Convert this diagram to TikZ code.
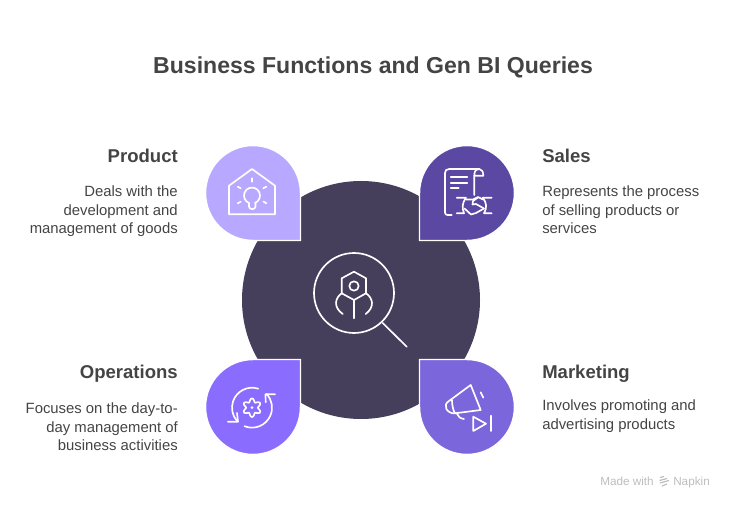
\documentclass[tikz,border=0pt]{standalone}
\usepackage{fontspec}
\setmainfont{Liberation Sans}
\definecolor{ink}{HTML}{444444}
\definecolor{hub}{HTML}{453F5C}
\definecolor{cproduct}{HTML}{B9A8FF}
\definecolor{csales}{HTML}{5B48A2}
\definecolor{coper}{HTML}{8A6CFF}
\definecolor{cmark}{HTML}{7B66DC}
\definecolor{brand}{HTML}{BDBDBD}
\tikzset{
 droplet/.style={draw=white,line width=1.1pt,line join=miter},
 icon/.style={draw=white,line width=1.25pt,line cap=round,line join=round},
 heading/.style={inner sep=0pt,text=ink,font=\fontsize{13.9}{17}\selectfont\bfseries},
 bodyleft/.style={inner sep=0pt,text=ink,align=right,anchor=north east,font=\fontsize{11.15}{13.85}\selectfont},
 bodyright/.style={inner sep=0pt,text=ink,align=left,anchor=north west,font=\fontsize{11.15}{13.85}\selectfont},
 brandtext/.style={inner sep=0pt,text=brand,font=\fontsize{8.8}{10}\selectfont},
}
\begin{document}
\begin{tikzpicture}[x=0.75pt,y=-0.75pt]
\useasboundingbox (0,0) rectangle (732,509);
\node[inner sep=0pt,text=ink,font=\fontsize{17.3}{22}\selectfont\bfseries,anchor=base] (title) at (373,73.5) {Business Functions and Gen BI Queries};
% hub
\fill[hub] (361,300) circle[radius=119];
% droplets
\path[droplet,fill=cproduct] (253,240.5) arc[start angle=90,end angle=360,radius=47.5] -- (300.5,240.5) -- cycle;
\path[droplet,fill=csales] (419.5,193) arc[start angle=180,end angle=450,radius=47.5] -- (419.5,240.5) -- cycle;
\path[droplet,fill=coper] (300.5,407) arc[start angle=0,end angle=270,radius=47.5] -- (300.5,359.5) -- cycle;
\path[droplet,fill=cmark] (467,359.5) arc[start angle=270,end angle=540,radius=47.5] -- (419.5,359.5) -- cycle;
% centre icon
\draw[icon] (354,293) circle[radius=40];
\draw[icon] (382.7,323) -- (406.7,346.7);
\draw[icon] (354,271.7) -- (366,278.3) -- (366,293.3) -- (354,300) -- (341.7,293.3) -- (341.7,278.3) -- cycle;
\draw[icon] (354,286) circle[radius=4.7];
\draw[icon] (354,300) -- (354,318.3);
\draw[icon] (341.7,293.3) .. controls (335,298) and (333,307) .. (342.7,314);
\draw[icon] (366,293.3) .. controls (373,298) and (375,307) .. (365.7,314);
% product icon
\draw[icon] (252,169) -- (275,185.7) -- (275,214.3) -- (229,214.3) -- (229,185.7) -- cycle;
\draw[icon] (249,203) arc[start angle=112,end angle=428,radius=8] ;
\draw[icon] (249,203) -- (249,206.5) .. controls (249,210) and (255.5,210) .. (255.5,206.5) -- (255.5,203);
\draw[icon] (252,178.3) -- (252,181.7);
\draw[icon] (237.7,186.7) -- (240.7,188.3);
\draw[icon] (263.3,188.3) -- (266.3,186.7);
\draw[icon] (237.7,203.3) -- (240.7,201.7);
\draw[icon] (263.3,201.5) -- (266.3,203.3);
% sales icon
\draw[icon] (451.7,215) -- (447.5,215) .. controls (446,215) and (445,214) .. (445,212.5) -- (445,173) .. controls (445,170.5) and (446.5,169) .. (449.3,169) -- (479.3,169) .. controls (482,169) and (483.3,172) .. (483.3,175.7) -- (474.3,175.7);
\draw[icon] (479.3,169) .. controls (476.5,169) and (474.3,170) .. (474.3,175.7) -- (474.3,195);
\draw[icon] (450.7,176.7) -- (467.3,176.7);
\draw[icon] (450.7,182.7) -- (467.3,182.7);
\draw[icon] (450.7,188.3) -- (458.7,188.3);
\draw[icon] (456.7,197.7) -- (466,197.7) .. controls (462,203) and (462,208) .. (464,213.3) -- (456.7,213.3);
\draw[icon] (491.7,197.7) -- (482.7,197.7) .. controls (487,203) and (487,208) .. (484,213.3) -- (491.7,213.3);
\draw[icon] (466,199.5) -- (473,199.5) -- (478,197) -- (483,199.5);
\draw[icon] (478,197.5) -- (473,201) -- (472.5,204.5) -- (476,204) -- (484,208.5);
\draw[icon] (464.5,208.5) -- (471,214.5) -- (476,213) -- (484,208.5);
% operations icon
\draw[icon] (258.2,388.7) arc[start angle=288,end angle=140,radius=20];
\draw[icon] (228,421.7) -- (238,421.7) -- (237,413);
\draw[icon] (244.5,426.2) arc[start angle=112,end angle=-43,radius=20];
\draw[icon] (275,394.3) -- (265.5,394.3) -- (265.7,402.3);
\draw[icon,smooth,samples=73,domain=0:360] plot ({252+(7.6-1.7*cos(6*\x))*cos(\x)},{407.7+(7.6-1.7*cos(6*\x))*sin(\x)}) -- cycle;
\fill[white] (252,407.7) circle[radius=1.5];
% marketing icon
\draw[icon] (470.7,385) -- (480.7,410) -- (455,413.3) .. controls (447,414) and (442,405) .. (449,401) -- cycle;
\draw[icon] (452,400) .. controls (452,405) and (453,410) .. (455,413.3);
\draw[icon] (456.7,413.3) .. controls (458,416.5) and (460,418.5) .. (464,419);
\draw[icon] (480.7,392.3) -- (483.3,397.7);
\draw[icon] (473.3,416.7) -- (473.3,431) -- (486,423.7) -- cycle;
\draw[icon] (491,415.7) -- (491,431);
% text
\node[heading,anchor=base east] (hproduct) at (178,163) {Product};
\node[bodyleft] (tproduct) at (178,185.5) {Deals with the\\development and\\management of goods};
\node[heading,anchor=base west] (hsales) at (542,163) {Sales};
\node[bodyright] (tsales) at (542,185.5) {Represents the process\\of selling products or\\services};
\node[heading,anchor=base east] (hoper) at (178,379) {Operations};
\node[bodyleft] (toper) at (178,402.5) {Focuses on the day-to-\\day management of\\business activities};
\node[heading,anchor=base west] (hmark) at (542,379) {Marketing};
\node[bodyright] (tmark) at (542,399.5) {Involves promoting and\\advertising products};
% brand
\node[brandtext,anchor=base west] (made) at (600,485) {Made with};
\node[brandtext,anchor=base west] (napkin) at (673,485) {Napkin};
\draw[brand,line width=0.9pt] (660,477.5) -- (664,476.5) (659.5,480.5) -- (667,478.5) (660,483) -- (669,480.5) (662,486) -- (667,484);
\end{tikzpicture}
\end{document}
